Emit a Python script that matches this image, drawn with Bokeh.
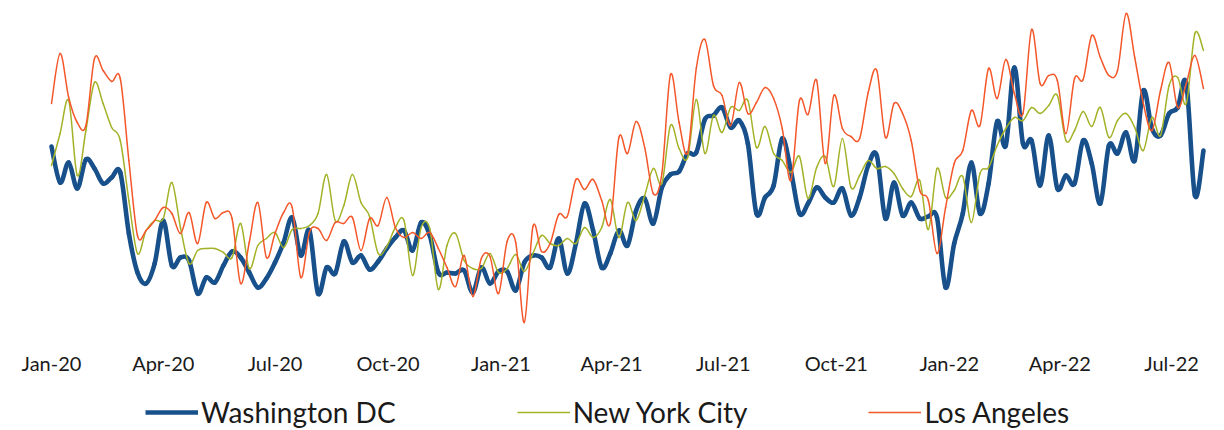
import datetime as dt
from bokeh.plotting import figure
from bokeh.layouts import column
from bokeh.models import Range1d, FixedTicker, Legend, LegendItem, ColumnDataSource
from bokeh.embed import file_html
from bokeh.resources import INLINE

# ---------------- data (weekly, arbitrary index units) ----------------
first_week = dt.datetime(2020, 1, 1)

washington_dc = [204, 168, 188, 162, 191, 182, 167, 173, 178, 117, 78, 67, 87, 130, 85, 93, 90, 57, 73, 68,
                 85, 99, 93, 78, 63, 72, 88, 108, 133, 95, 120, 57, 83, 77, 109, 88, 95, 81, 89, 102,
                 113, 120, 100, 128, 115, 78, 78, 77, 80, 58, 83, 67, 79, 79, 60, 88, 95, 93, 83, 112,
                 77, 107, 147, 120, 83, 97, 120, 105, 140, 152, 127, 163, 176, 179, 197, 198, 231, 235, 243, 223,
                 230, 207, 137, 153, 165, 212, 180, 137, 147, 163, 153, 148, 162, 135, 153, 185, 195, 132, 168, 135,
                 148, 132, 134, 133, 63, 107, 137, 188, 137, 167, 229, 205, 283, 207, 210, 165, 215, 162, 175, 167,
                 210, 187, 147, 205, 197, 218, 190, 260, 222, 215, 237, 243, 267, 155, 200]

new_york_city = [185, 217, 250, 175, 220, 268, 247, 223, 210, 150, 97, 120, 130, 132, 168, 123, 87, 100, 102, 102,
                 98, 93, 127, 82, 105, 112, 118, 103, 121, 122, 125, 137, 176, 130, 145, 176, 148, 134, 97, 104,
                 123, 130, 75, 123, 122, 61, 105, 117, 90, 82, 82, 97, 78, 82, 96, 79, 97, 115, 107, 105,
                 112, 107, 123, 113, 123, 151, 113, 148, 130, 155, 182, 167, 225, 202, 193, 251, 197, 235, 218, 243,
                 240, 250, 203, 224, 197, 190, 178, 194, 152, 183, 194, 164, 212, 163, 175, 190, 182, 184, 177, 162,
                 154, 170, 121, 182, 153, 160, 174, 128, 177, 183, 205, 222, 233, 230, 243, 237, 245, 255, 210, 220,
                 239, 224, 243, 213, 230, 237, 223, 200, 233, 215, 265, 273, 247, 317, 300]

los_angeles = [247, 297, 253, 228, 225, 292, 280, 269, 272, 190, 115, 120, 130, 143, 137, 117, 138, 107, 148, 132,
               138, 132, 67, 108, 148, 93, 117, 138, 143, 73, 118, 122, 110, 128, 127, 133, 100, 132, 125, 153,
               123, 113, 118, 112, 118, 102, 83, 64, 95, 54, 92, 94, 57, 109, 108, 28, 124, 99, 107, 136,
               134, 171, 161, 171, 150, 127, 213, 197, 229, 203, 157, 177, 276, 228, 198, 282, 311, 265, 255, 225,
               268, 237, 248, 263, 252, 222, 170, 250, 236, 270, 187, 255, 222, 214, 212, 258, 280, 213, 247, 237,
               210, 160, 150, 97, 143, 187, 200, 240, 225, 282, 252, 291, 257, 237, 321, 267, 275, 270, 217, 272,
               271, 315, 293, 275, 280, 337, 293, 247, 220, 260, 288, 243, 267, 295, 262]

tick_labels = ["Jan-20", "Apr-20", "Jul-20", "Oct-20", "Jan-21", "Apr-21",
               "Jul-21", "Oct-21", "Jan-22", "Apr-22", "Jul-22"]
tick_dates = [dt.datetime(2020, 1, 1), dt.datetime(2020, 4, 1), dt.datetime(2020, 7, 1),
              dt.datetime(2020, 10, 1), dt.datetime(2021, 1, 1), dt.datetime(2021, 4, 1),
              dt.datetime(2021, 7, 1), dt.datetime(2021, 10, 1), dt.datetime(2022, 1, 1),
              dt.datetime(2022, 4, 1), dt.datetime(2022, 7, 1)]

series_names = ["Washington DC", "New York City", "Los Angeles"]
series_colors = ["#17508A", "#A4B228", "#F4572A"]
series_widths = [4.6, 1.5, 1.5]

# ---------------- helpers ----------------
EPOCH = dt.datetime(1970, 1, 1)
DAY_MS = 86400000.0


def to_ms(d):
    return (d - EPOCH).total_seconds() * 1000.0


def smooth_segments(xs, ys):
    """Catmull-Rom style cubic Bezier segments (like a spreadsheet 'smoothed line')."""
    n = len(xs)
    out = {k: [] for k in ("x0", "y0", "x1", "y1", "cx0", "cy0", "cx1", "cy1")}
    for i in range(n - 1):
        a = i - 1 if i > 0 else i
        d = i + 2 if i + 2 < n else i + 1
        out["x0"].append(xs[i]); out["y0"].append(ys[i])
        out["x1"].append(xs[i + 1]); out["y1"].append(ys[i + 1])
        out["cx0"].append(xs[i] + (xs[i + 1] - xs[a]) / 6.0)
        out["cy0"].append(ys[i] + (ys[i + 1] - ys[a]) / 6.0)
        out["cx1"].append(xs[i + 1] - (xs[d] - xs[i]) / 6.0)
        out["cy1"].append(ys[i + 1] - (ys[d] - ys[i]) / 6.0)
    return out


week_x = [to_ms(first_week + dt.timedelta(days=7 * k)) for k in range(len(washington_dc))]

# ---------------- main chart ----------------
px_per_day = 8.597 / 7.0
frame_w = 1208
x_start = to_ms(first_week) - (51.0 / px_per_day) * DAY_MS
x_end = x_start + (frame_w / px_per_day) * DAY_MS

p = figure(frame_width=frame_w, frame_height=332, x_axis_type="datetime",
           y_axis_location=None, output_backend="svg", toolbar_location=None,
           min_border_left=0, min_border_right=0, min_border_top=0, min_border_bottom=50,
           x_range=Range1d(x_start, x_end), y_range=Range1d(18, 350))
p.outline_line_color = None
p.xgrid.visible = False
p.ygrid.visible = False
p.background_fill_color = "white"
p.border_fill_color = "white"

tick_ms = [to_ms(d) for d in tick_dates]
p.xaxis.ticker = FixedTicker(ticks=tick_ms)
p.xaxis.major_label_overrides = {t: lab for t, lab in zip(tick_ms, tick_labels)}
p.xaxis.axis_line_color = None
p.xaxis.major_tick_line_color = None
p.xaxis.minor_tick_line_color = None
p.xaxis.major_tick_out = 0
p.xaxis.major_label_standoff = 18
p.xaxis.major_label_text_font = "Lato"
p.xaxis.major_label_text_font_size = "20px"
p.xaxis.major_label_text_color = "#1a1a1a"

for vals, color, width in zip([washington_dc, new_york_city, los_angeles], series_colors, series_widths):
    src = ColumnDataSource(smooth_segments(week_x, vals))
    p.bezier(x0="x0", y0="y0", x1="x1", y1="y1", cx0="cx0", cy0="cy0", cx1="cx1", cy1="cy1",
             source=src, line_color=color, line_width=width, line_cap="round")

# ---------------- legend strip ----------------
leg = figure(frame_width=frame_w, frame_height=48, output_backend="svg", toolbar_location=None,
             x_axis_location=None, y_axis_location=None,
             min_border_left=0, min_border_right=0, min_border_top=0, min_border_bottom=0,
             x_range=Range1d(0, 1), y_range=Range1d(0, 1))
leg.outline_line_color = None
leg.xgrid.visible = False
leg.ygrid.visible = False
leg.border_fill_color = "white"

# legend keys: renderers holding a single undefined point (draw nothing themselves)
key_renderers = [leg.line(x=[0.0], y=[float("nan")], line_color=c, line_width=w)
                 for c, w in zip(series_colors, series_widths)]
legend = Legend(items=[LegendItem(label=n, renderers=[r]) for n, r in zip(series_names, key_renderers)],
                orientation="horizontal", location=(145, 1),
                glyph_width=53, glyph_height=20, label_standoff=3, spacing=121,
                padding=0, margin=0, border_line_color=None, background_fill_alpha=0,
                label_text_font="Lato", label_text_font_size="28px", label_text_color="#1a1a1a")
leg.add_layout(legend)

layout = column(p, leg, spacing=0)
open("out.html", "w").write(file_html(layout, INLINE))
